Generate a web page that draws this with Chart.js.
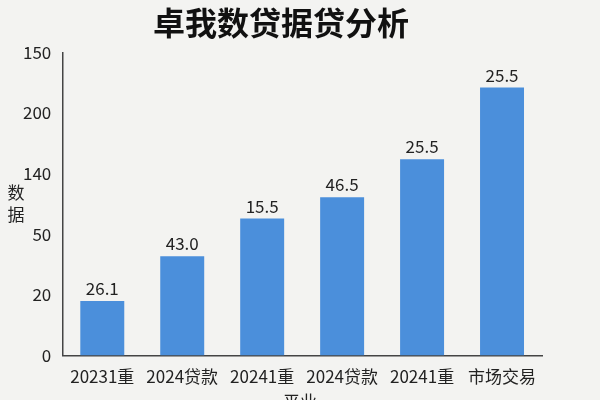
<!DOCTYPE html>
<html><head><meta charset="utf-8">
<script src="https://cdn.jsdelivr.net/npm/chart.js@4"></script>
<style>html,body{margin:0;background:#f3f3f1;}#w{width:600px;height:400px;}</style>
</head><body><div id="w"><canvas id="c"></canvas></div>
<script>
const categories = ['20231重','2024贷款','20241重','2024贷款','20241重','市场交易'];
const values = [0.9, 1.64, 2.26, 2.61, 3.24, 4.42];
const barLabels = ['26.1','43.0','15.5','46.5','25.5','25.5'];
const tickLabels = ['0','20','50','140','200','150'];
const F = '"Noto Sans CJK SC", "Noto Sans", sans-serif';
const extra = {
  id:'extra',
  afterDatasetsDraw(chart){
    const ctx = chart.ctx;
    ctx.save();
    ctx.fillStyle = '#222';
    ctx.font = '17px '+F;
    ctx.textAlign='center'; ctx.textBaseline='bottom';
    chart.getDatasetMeta(0).data.forEach((b,i)=>ctx.fillText(barLabels[i], b.x, b.y-4));
    ctx.textBaseline='middle';
    ctx.fillText('数', 16, 193); ctx.fillText('据', 16, 215);
    ctx.fillText('平业', 300, 402);
    ctx.restore();
  }
};
new Chart(document.getElementById('c'), {
  type:'bar',
  data:{labels:categories, datasets:[{data:values, backgroundColor:'#4b8fdb', barPercentage:0.55, categoryPercentage:1}]},
  options:{
    responsive:true, maintainAspectRatio:false, animation:false,
    layout:{padding:{left:20,right:58,top:0,bottom:10}},
    plugins:{legend:{display:false}, tooltip:{enabled:false},
      title:{display:true, text:'卓我数贷据贷分析', color:'#111', font:{family:F,size:32,weight:'bold'}, padding:{top:4,bottom:10}}},
    scales:{
      y:{min:0,max:5,ticks:{stepSize:1,color:'#222',font:{family:F,size:17},callback:(v)=>tickLabels[v]},
         grid:{display:false}, border:{color:'#444',width:1.5}},
      x:{ticks:{color:'#222',font:{family:F,size:17}}, grid:{display:false}, border:{color:'#444',width:1.5}}
    }
  },
  plugins:[extra]
});
</script></body></html>
